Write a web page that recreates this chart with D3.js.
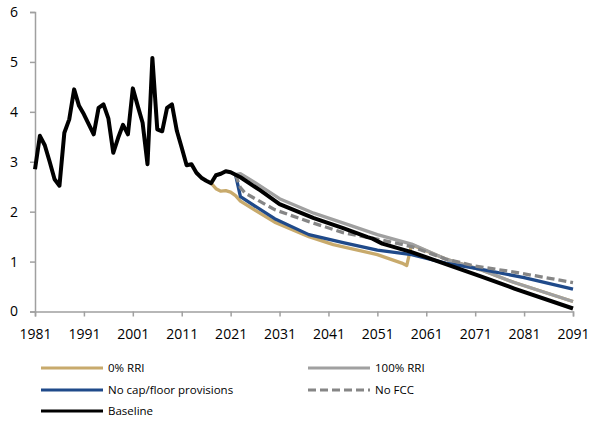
<!DOCTYPE html>
<html lang="en">

<head>
  <meta charset="UTF-8">
  <title>Projection chart</title>
  <style>
    body { margin: 0; background: #fff; }
    text { font-family: "Open Sans", "Noto Sans", sans-serif; fill: #000; }
  </style>
</head>

<body>

  <svg id="chart" width="592" height="423"></svg>

  <script src="https://d3js.org/d3.v7.min.js"></script>

  <script>
    // history, one value a year from 1981
    var histYears = d3.range(1981, 2024);
    var histValues = [2.85, 3.52, 3.33, 3.00, 2.65, 2.52, 3.58, 3.85, 4.45, 4.12,
      3.95, 3.75, 3.55, 4.08, 4.15, 3.87, 3.18, 3.48, 3.74, 3.55,
      4.47, 4.12, 3.78, 2.95, 5.08, 3.65, 3.61, 4.08, 4.15, 3.62,
      3.28, 2.93, 2.95, 2.78, 2.68, 2.62, 2.57, 2.73, 2.76, 2.81,
      2.79, 2.74, 2.69];

    // projections, [year, value]
    var baseline = [[2027, 2.43], [2031, 2.15], [2034, 2.03], [2038, 1.87], [2044, 1.67],
      [2049, 1.49], [2050, 1.46], [2052, 1.36], [2058, 1.19], [2065, 0.95],
      [2072, 0.71], [2079, 0.46], [2091, 0.06]];
    var rri0 = [[2017, 2.57], [2018, 2.46], [2019, 2.41], [2020, 2.42], [2021, 2.39],
      [2022, 2.32], [2023, 2.21], [2030, 1.79], [2037, 1.50], [2042, 1.34],
      [2051, 1.14], [2056, 0.97], [2057, 0.92], [2058, 1.34], [2065, 1.05],
      [2072, 0.84], [2079, 0.58], [2091, 0.20]];
    var rri100 = [[2022, 2.74], [2023, 2.76], [2026, 2.58], [2031, 2.26], [2038, 1.97],
      [2045, 1.74], [2051, 1.54], [2058, 1.35], [2065, 1.05], [2072, 0.84],
      [2079, 0.58], [2091, 0.20]];
    var noCap = [[2022, 2.74], [2023, 2.30], [2030, 1.86], [2037, 1.54], [2044, 1.38],
      [2051, 1.23], [2058, 1.14], [2065, 0.97], [2072, 0.85], [2081, 0.68],
      [2091, 0.45]];
    var noFcc = [[2022, 2.74], [2023, 2.48], [2024, 2.37], [2030, 2.04], [2037, 1.80],
      [2044, 1.58], [2051, 1.45], [2058, 1.30], [2065, 1.05], [2071, 0.91],
      [2079, 0.79], [2091, 0.58]];

    var xTicks = d3.range(1981, 2092, 10);
    var yTicks = [0, 1, 2, 3, 4, 5, 6];

    var svg = d3.select("#chart"),
      x = d3.scaleLinear().domain([1981, 2091]).range([35, 573]),
      y = d3.scaleLinear().domain([0, 6]).range([311.5, 12]),
      axisColor = "#a0a0a0";

    var fullBaseline = histYears.map(function(yr, i) {
      return [yr, histValues[i]];
    }).concat(baseline);

    // drawing order: first is at the bottom
    var series = [
      { name: "0% RRI", data: rri0, color: "#c8aa6c", width: 3.3, dash: null },
      { name: "100% RRI", data: rri100, color: "#a0a0a0", width: 3.3, dash: null },
      { name: "No cap/floor provisions", data: noCap, color: "#1f4a8a", width: 3.3, dash: null },
      { name: "No FCC", data: noFcc, color: "#868686", width: 3.3, dash: "8,4" },
      { name: "Baseline", data: fullBaseline, color: "#000", width: 4, dash: null }
    ];

    // axes
    var yAxis = svg.append("g")
      .attr("transform", "translate(" + x(1981) + ",0)")
      .call(d3.axisLeft(y).tickValues(yTicks).tickSize(5).tickPadding(12).tickFormat(d3.format("d")));
    var xAxis = svg.append("g")
      .attr("transform", "translate(0," + y(0) + ")")
      .call(d3.axisBottom(x).tickValues(xTicks).tickSize(5).tickPadding(13).tickFormat(d3.format("d")));

    [yAxis, xAxis].forEach(function(ax) {
      ax.select(".domain").attr("stroke", axisColor).attr("stroke-width", 1.5);
      ax.selectAll(".tick line").attr("stroke", axisColor).attr("stroke-width", 1.5);
      ax.selectAll(".tick text")
        .attr("font-family", "'Open Sans', 'Noto Sans', sans-serif")
        .attr("font-size", 14)
        .attr("fill", "#000");
    });

    var line = d3.line()
      .x(function(d) { return x(d[0]); })
      .y(function(d) { return y(d[1]); });

    svg.append("g").selectAll("path")
      .data(series)
      .enter().append("path")
      .attr("d", function(s) { return line(s.data); })
      .attr("fill", "none")
      .attr("stroke", function(s) { return s.color; })
      .attr("stroke-width", function(s) { return s.width; })
      .attr("stroke-dasharray", function(s) { return s.dash; })
      .attr("stroke-linejoin", "round");

    // legend, two columns
    var legendCols = [41, 308],
      legendRows = [368, 390, 411];

    var item = svg.append("g").selectAll("g")
      .data(series)
      .enter().append("g")
      .attr("transform", function(s, i) {
        return "translate(" + legendCols[i % 2] + "," + legendRows[Math.floor(i / 2)] + ")";
      });

    item.append("line")
      .attr("x1", 0).attr("x2", 62)
      .attr("stroke", function(s) { return s.color; })
      .attr("stroke-width", 3)
      .attr("stroke-dasharray", function(s) { return s.dash; });

    item.append("text")
      .attr("x", 67)
      .attr("dy", "0.35em")
      .attr("font-size", 11.5)
      .text(function(s) { return s.name; });
  </script>

</body>

</html>
